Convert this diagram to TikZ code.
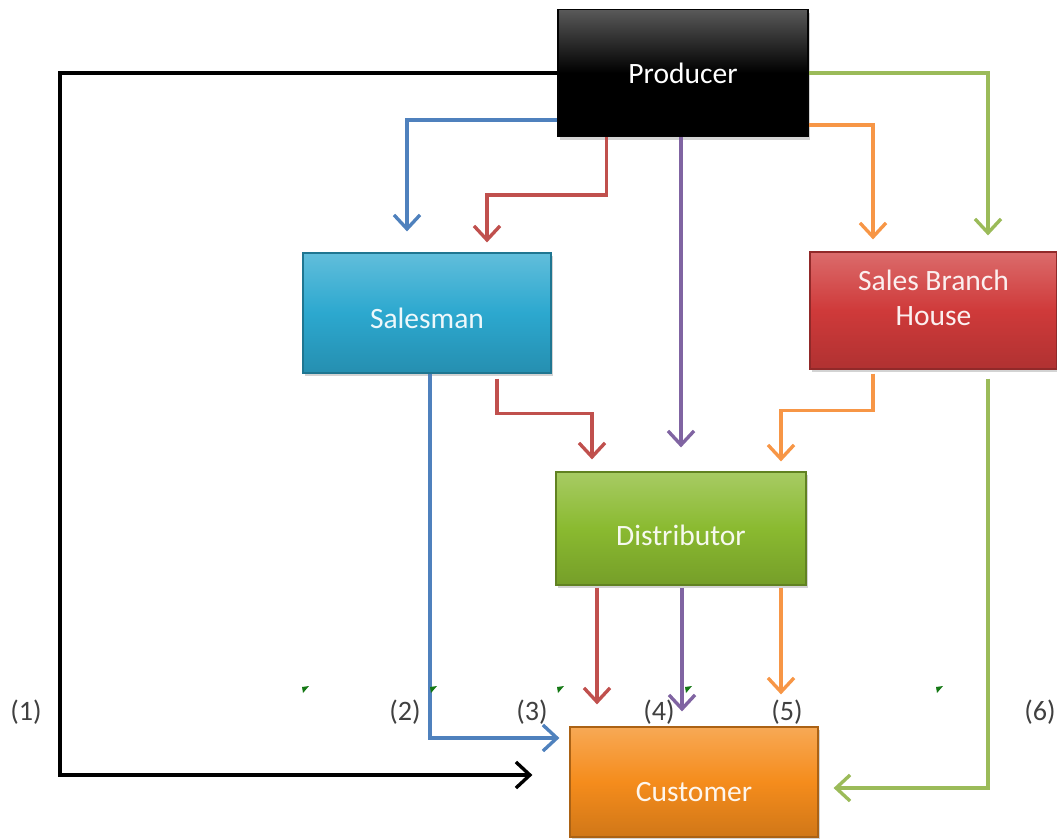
\documentclass[tikz,border=0pt]{standalone}
\usepackage{fontspec}
\setmainfont{Carlito}
\usetikzlibrary{arrows.meta,positioning,shadows,calc}

\definecolor{lnblue}{RGB}{79,129,189}
\definecolor{lnred}{RGB}{192,80,77}
\definecolor{lnpurple}{RGB}{128,100,162}
\definecolor{lnorange}{RGB}{247,150,70}
\definecolor{lngreen}{RGB}{155,187,89}
\definecolor{marker}{RGB}{20,120,20}
\definecolor{prodfill}{RGB}{5,5,5}
\definecolor{salesfill}{RGB}{44,168,207}
\definecolor{branchfill}{RGB}{207,58,58}
\definecolor{distfill}{RGB}{138,186,48}
\definecolor{custfill}{RGB}{245,140,28}

% lower a label inside its box without changing the box
\newcommand{\lowered}[2]{\raisebox{-#1}[\height][\depth]{#2}}

\tikzset{
  box/.style={rectangle, draw=#1!70!black, line width=0.8pt, text=white!92!#1,
    top color=#1!75!white, bottom color=#1!85!black, middle color=#1,
    drop shadow={opacity=0.35, shadow xshift=0.6mm, shadow yshift=-0.8mm},
    font=\fontsize{21}{26}\selectfont, align=center, inner sep=2pt},
  flow/.style={line width=2.6pt, -{Straight Barb[length=3.5mm, width=6.5mm, line width=2.4pt]}},
  tag/.style={font=\fontsize{20}{22}\selectfont, text=black!75},
}

\begin{document}
\begin{tikzpicture}[x=0.025cm, y=-0.025cm]
  \useasboundingbox (0,0) rectangle (1057,839);

  % Boxes
  \node[box=prodfill, minimum width=6.25cm, minimum height=3.175cm, top color=black!65, bottom color=black, middle color=black, text=white] (prod) at (683,73) {Producer};
  \node[box=salesfill, minimum width=6.2cm, minimum height=3cm] (sales) at (427,313) {\lowered{3.5pt}{Salesman}};
  \node[box=branchfill, minimum width=6.175cm, minimum height=2.925cm] (branch) at (933.5,310.5) {Sales Branch\\[-1pt]House\\[-8pt]\mbox{}};
  \node[box=distfill, minimum width=6.25cm, minimum height=2.825cm] (dist) at (681,528.5) {\lowered{5pt}{Distributor}};
  \node[box=custfill, minimum width=6.2cm, minimum height=2.75cm] (cust) at (694,782) {\lowered{7pt}{Customer}};

  % Producer to middle level
  \draw[flow, black, shorten >=0.925cm] (prod.west) -- (60,73) |- ($(cust.west)+(0,-7)$);
  \draw[flow, lnblue, shorten >=0.525cm] ($(prod.south west)+(0,-17)$) -| ($(sales.north)+(-20,0)$);
  \draw[flow, lnred, shorten >=0.25cm] ($(prod.south west)+(49,0)$) -- ++(0,58) -| ($(sales.north)+(60,0)$);
  \draw[flow, lnpurple, shorten >=0.6cm] ($(prod.south)+(-2,0)$) -- (dist.north);
  \draw[flow, lnorange, shorten >=0.3cm] ($(prod.south east)+(0,-12)$) -| ($(branch.north)+(-60.5,0)$);
  \draw[flow, lngreen, shorten >=0.4cm] (prod.east) -| ($(branch.north)+(54.5,0)$);

  % Middle level to distributor and customer
  \draw[flow, lnblue, shorten >=0.25cm] ($(sales.south)+(3,0)$) |- ($(cust.west)+(0,-44)$);
  \draw[flow, lnred, shorten >=0.3cm] ($(sales.south)+(70,5)$) -- ++(0,35) -| ($(dist.north)+(-89,0)$);
  \draw[flow, lnorange, shorten >=0.25cm] ($(branch.south)+(-60.5,4)$) -- ++(0,37) -| ($(dist.north)+(100,0)$);
  \draw[flow, lngreen, shorten >=0.375cm] ($(branch.south)+(54.5,9)$) |- ($(cust.east)+(0,6)$);

  % Distributor to customer
  \coordinate (dr) at ($(dist.south)+(-84,2)$);
  \coordinate (dp) at ($(dist.south)+(1,2)$);
  \coordinate (do) at ($(dist.south)+(100,2)$);
  \draw[flow, lnred, shorten >=0.55cm] (dr) -- (dr |- cust.north);
  \draw[flow, lnpurple, shorten >=0.375cm] (dp) -- (dp |- cust.north);
  \draw[flow, lnorange, shorten >=0.8cm] (do) -- (do |- cust.north);

  % Channel numbers
  \node[tag] (n1) at (26,712) {(1)};
  \node[tag] (n2) at (405,712) {(2)};
  \node[tag] (n3) at (532,712) {(3)};
  \node[tag] (n4) at (659,712) {(4)};
  \node[tag] (n5) at (787,712) {(5)};
  \node[tag] (n6) at (1040,712) {(6)};

  % small green marks
  \foreach \mx in {305,433,560,688,939}
    \fill[marker] (\mx-3,687) -- (\mx+4,686) -- (\mx-2,693) -- cycle;
\end{tikzpicture}
\end{document}
